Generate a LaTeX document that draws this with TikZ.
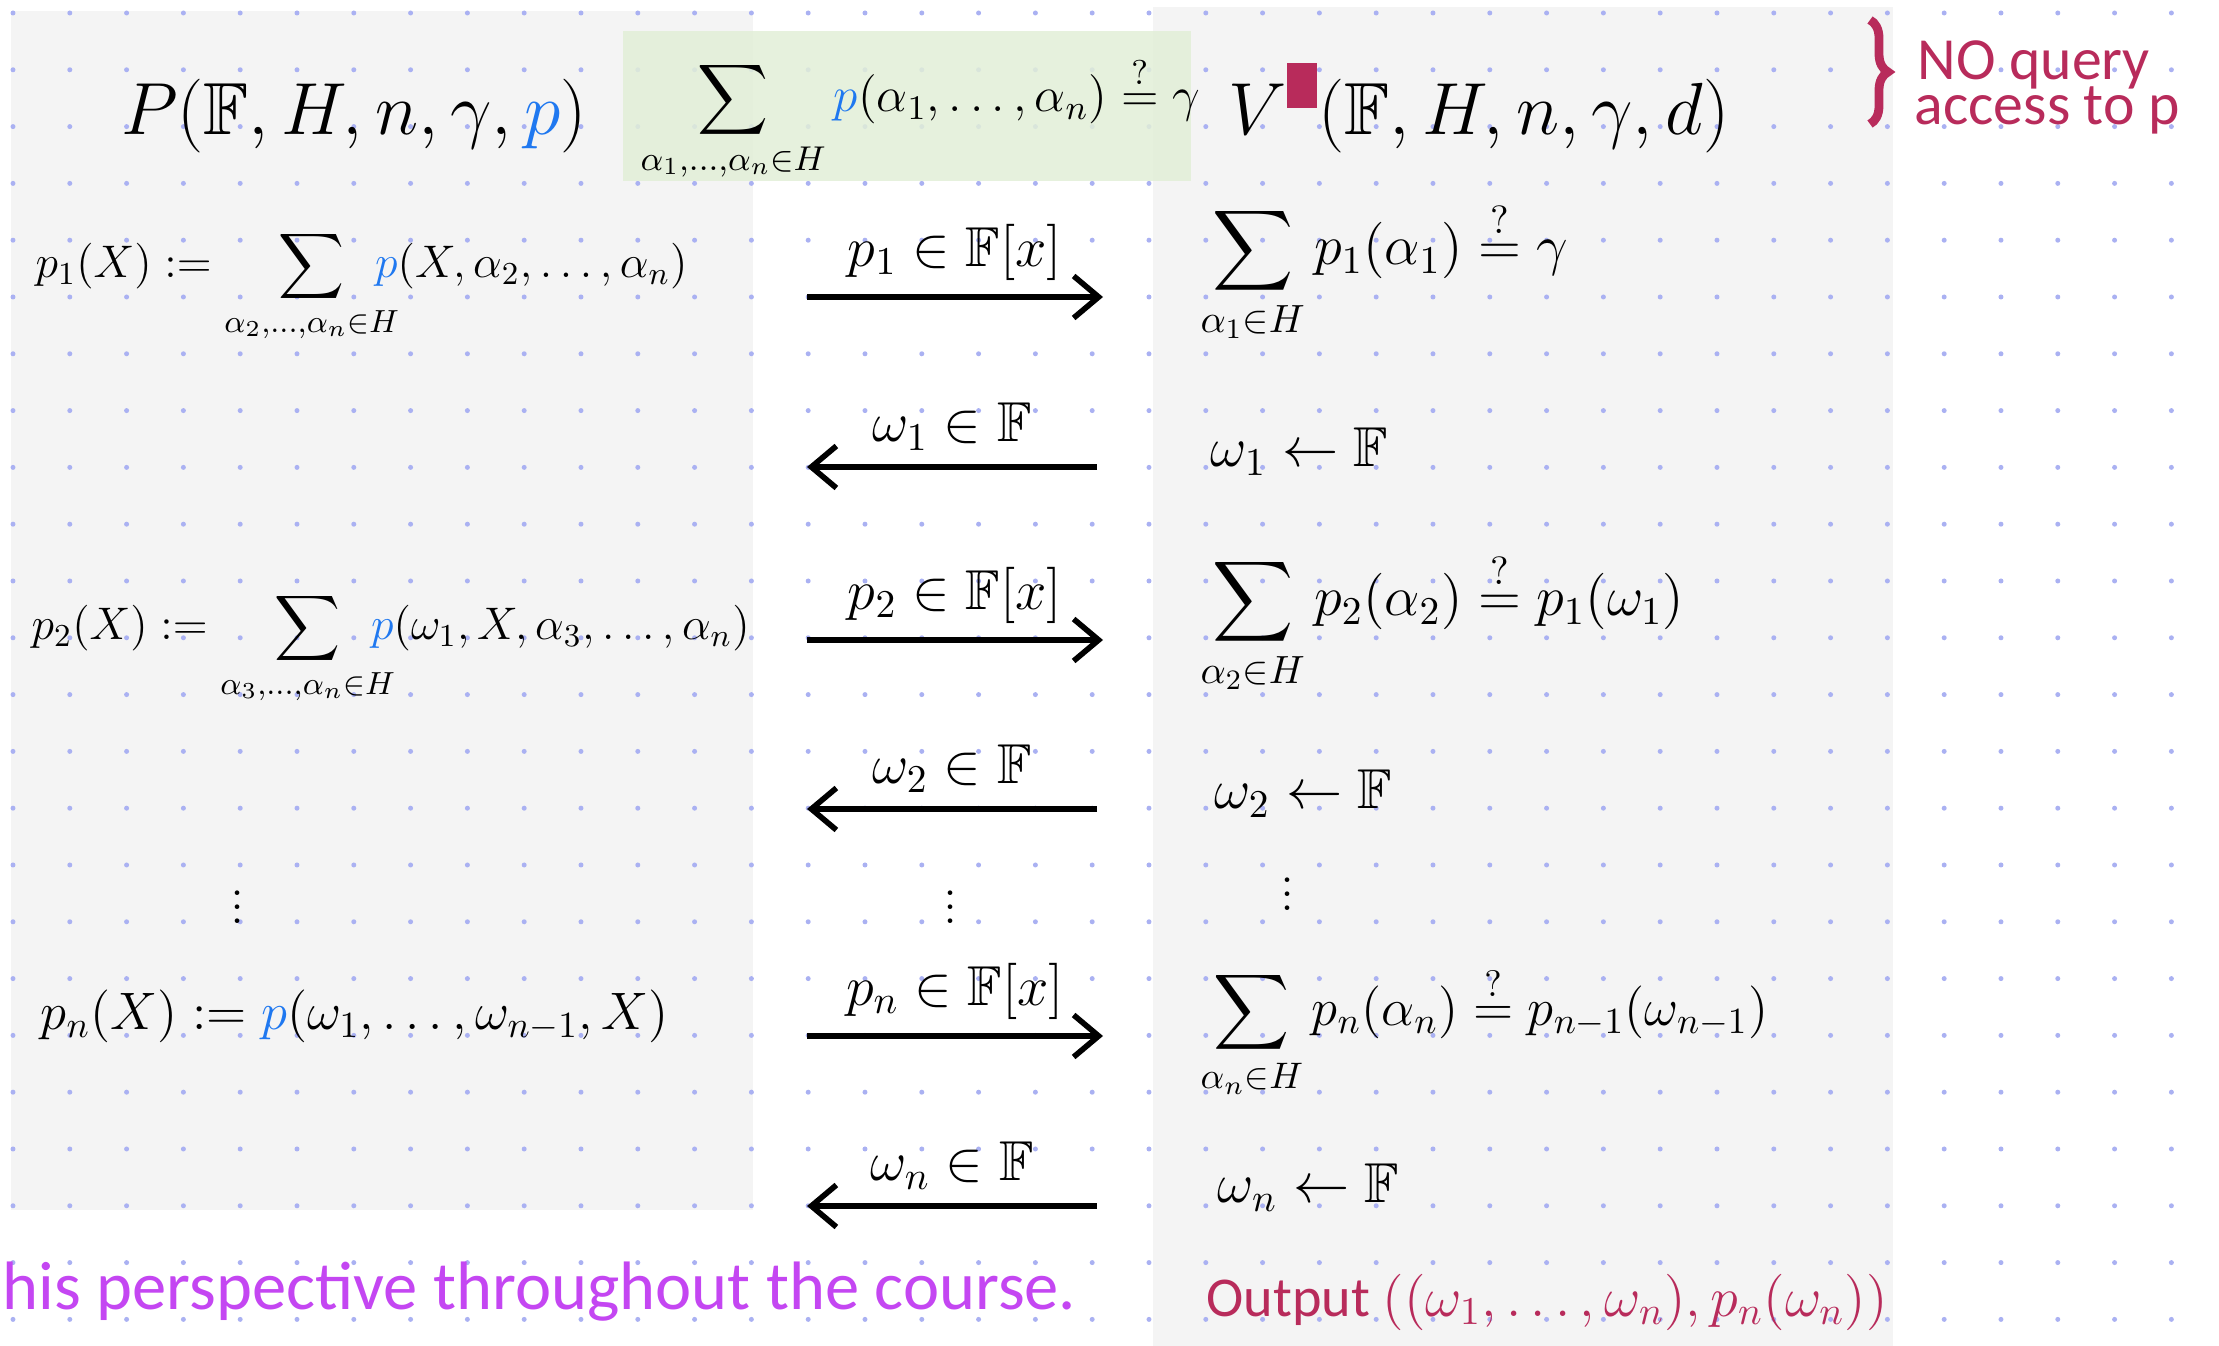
\RequirePackage{fix-cm}
\documentclass[tikz,border=0pt]{standalone}
\usepackage{amsmath,amssymb,mathtools}
\usepackage{fontspec}
\usetikzlibrary{arrows.meta,decorations.pathreplacing,positioning}
\newfontfamily\penfont{Carlito}
\definecolor{crim}{HTML}{B82B5B}
\definecolor{pblue}{HTML}{1F78F0}
\definecolor{violetpen}{HTML}{C446F2}
\definecolor{panel}{HTML}{F4F4F4}
\definecolor{greenbox}{HTML}{E2EFD7}
\definecolor{griddot}{HTML}{AAB1F2}
\newcommand\rowsize{\fontsize{16}{19}\selectfont}
\newcommand\defsize{\fontsize{13}{16}\selectfont}
\newcommand\bigsize{\fontsize{21}{25}\selectfont}
\newcommand\qeq{\overset{?}{=}}
\newcommand\pb{{\color{pblue}p}}
\tikzset{
  eqn/.style={
    inner sep=0pt,
    font=\rowsize
  },
  msg/.style={
    line width=1.6pt,
    -{Straight Barb[length=0.25cm,width=0.42cm,line width=1.6pt]}
  },
  lbl/.style={
    above=4pt,
    inner sep=0pt,
    font=\rowsize
  },
  pen/.style={
    inner sep=0pt,
    font=\penfont\fontsize{17}{20}\selectfont
  },
}
\begin{document}
\begin{tikzpicture}
  \useasboundingbox (0,0) rectangle (22.19,-13.46);
  \fill[panel] (0.11,-0.11) rectangle (7.53,-12.10);
  \fill[panel] (11.53,-0.07) rectangle (18.93,-13.46);
  \foreach \i in {0,...,38}{
    \foreach \j in {0,...,23}{
      \fill[griddot] ({0.13+0.568*\i},{-0.13-0.568*\j}) circle (0.025);
    }
  }
  \fill[greenbox,opacity=0.85] (6.23,-0.31) rectangle (11.91,-1.81);

  % top line
  \node[eqn,font=\bigsize,anchor=base] (prover) at (3.54,-1.35) {$P(\mathbb{F},H,n,\gamma,\pb)$};
  \node[eqn,font=\fontsize{14}{17}\selectfont,anchor=base west] (claim) at (6.40,-1.12) {$\displaystyle\sum_{\alpha_1,\dots,\alpha_n\in H}\pb(\alpha_1,\dots,\alpha_n)\qeq\gamma$};
  \node[eqn,font=\bigsize,anchor=base west] (verifier) at (12.28,-1.35) {$V^{\textcolor{crim}{\rule{0.3cm}{0.45cm}}}(\mathbb{F},H,n,\gamma,d)$};
  \draw[crim,line width=2.5pt,decorate,decoration={brace,amplitude=0.18cm}] (18.70,-0.20) -- (18.70,-1.24);
  \node[pen,crim,anchor=base west] (noquery) at (19.17,-0.80) {NO query};
  \node[pen,crim,anchor=base west] (access) at (19.14,-1.25) {access to p};

  % prover side
  \node[eqn,font=\defsize,anchor=base west] (p1def) at (0.35,-2.78) {$p_1(X) := \smashoperator[r]{\sum_{\alpha_2,\dots,\alpha_n\in H}}\enskip\pb(X,\alpha_2,\dots,\alpha_n)$};
  \node[eqn,font=\defsize,anchor=base west] (p2def) at (0.31,-6.40) {$p_2(X) := \smashoperator[r]{\sum_{\alpha_3,\dots,\alpha_n\in H}}\enskip\pb(\omega_1,X,\alpha_3,\dots,\alpha_n)$};
  \node[eqn] (ldots) at (2.38,-8.97) {$\vdots$};
  \node[eqn,font=\fontsize{15}{18}\selectfont,anchor=base west] (pndef) at (0.40,-10.30) {$p_n(X) := \pb(\omega_1,\dots,\omega_{n-1},X)$};

  % messages
  \foreach \i/\y/\lab in {1/2.97/{p_1\in\mathbb{F}[x]},2/6.40/{p_2\in\mathbb{F}[x]},n/10.36/{p_n\in\mathbb{F}[x]}}{
    \coordinate (ps\i) at (8.07,-\y);
    \coordinate (pe\i) at (11.03,-\y);
    \draw[msg] (ps\i) -- node[lbl] {$\lab$} (pe\i);
  }
  \foreach \i/\y in {1/4.67,2/8.09,n/12.06}{
    \coordinate (vs\i) at (10.97,-\y);
    \coordinate (ve\i) at (8.07,-\y);
    \draw[msg] (vs\i) -- node[lbl] {$\omega_\i\in\mathbb{F}$} (ve\i);
  }
  \node[eqn] (mdots) at (9.51,-8.97) {$\vdots$};

  % verifier side
  \node[eqn,anchor=base west] (chk1) at (12.00,-2.65) {$\displaystyle\sum_{\alpha_1\in H}p_1(\alpha_1)\qeq\gamma$};
  \node[eqn,anchor=base west] (smp1) at (12.10,-4.67) {$\omega_1\leftarrow\mathbb{F}$};
  \node[eqn,anchor=base west] (chk2) at (12.00,-6.16) {$\displaystyle\sum_{\alpha_2\in H}p_2(\alpha_2)\qeq p_1(\omega_1)$};
  \node[eqn,anchor=base west] (smp2) at (12.14,-8.09) {$\omega_2\leftarrow\mathbb{F}$};
  \node[eqn] (rdots) at (12.88,-8.84) {$\vdots$};
  \node[eqn,font=\fontsize{15}{18}\selectfont,anchor=base west] (chkn) at (12.00,-10.26) {$\displaystyle\sum_{\alpha_n\in H}p_n(\alpha_n)\qeq p_{n-1}(\omega_{n-1})$};
  \node[eqn,anchor=base west] (smpn) at (12.17,-12.03) {$\omega_n\leftarrow\mathbb{F}$};

  % bottom
  \node[pen,violetpen,font=\penfont\fontsize{19.5}{23}\selectfont,anchor=base west] (remark) at (0.02,-13.09) {his perspective throughout the course.};
  \node[pen,crim,font=\penfont\fontsize{16}{19}\selectfont,anchor=base west] (output) at (12.06,-13.16) {Output $((\omega_1,\dots,\omega_n),p_n(\omega_n))$};
\end{tikzpicture}
\end{document}
